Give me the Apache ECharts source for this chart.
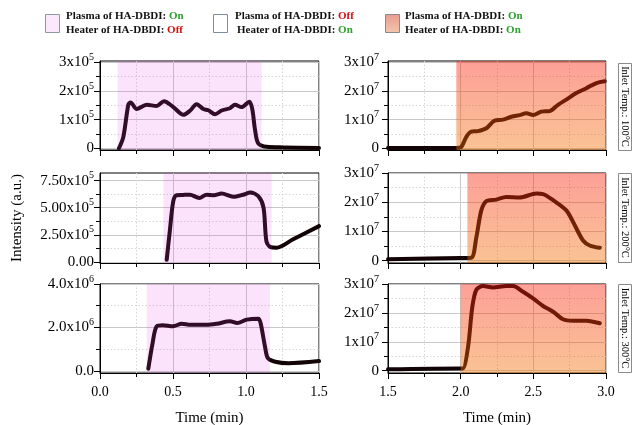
<!DOCTYPE html>
<html><head><meta charset="utf-8">
<script src="https://cdn.jsdelivr.net/npm/echarts@6/dist/echarts.min.js"></script>
<style>html,body{margin:0;padding:0;background:#fff}#c{width:638px;height:425px}</style>
</head><body><div id="c"></div>
<script>
// ---------- data ----------
const timeLeftTop = [0.13,0.16,0.194,0.21,0.251,0.32,0.388,0.438,0.502,0.571,0.616,0.662,0.708,0.742,0.788,0.833,0.89,0.925,0.97,1.023,1.043,1.062,1.084,1.142,1.256,1.5];
const valLeftTop  = [0,0.4e5,1.52e5,1.6e5,1.37e5,1.52e5,1.48e5,1.64e5,1.44e5,1.17e5,1.31e5,1.54e5,1.37e5,1.33e5,1.19e5,1.32e5,1.40e5,1.52e5,1.44e5,1.63e5,1.37e5,0.64e5,0.17e5,0.05e5,0.03e5,0.01e5];

const timeLeftMid = [0.457,0.478,0.502,0.525,0.57,0.616,0.68,0.73,0.78,0.833,0.913,0.98,1.03,1.085,1.12,1.14,1.168,1.21,1.32,1.5];
const valLeftMid  = [0.2e5,2.83e5,5.6e5,6.15e5,6.18e5,6.2e5,5.9e5,6.2e5,6.15e5,6.3e5,6.0e5,6.2e5,6.4e5,6.05e5,5.0e5,1.9e5,1.36e5,1.3e5,2.06e5,3.3e5];

const timeLeftBot = [0.331,0.36,0.388,0.43,0.5,0.56,0.62,0.73,0.8,0.89,0.94,1.005,1.085,1.1,1.13,1.15,1.2,1.29,1.5];
const valLeftBot  = [0.1e6,1.27e6,2.05e6,2.1e6,2.05e6,2.17e6,2.12e6,2.12e6,2.17e6,2.28e6,2.2e6,2.36e6,2.4e6,2.2e6,1.12e6,0.58e6,0.42e6,0.35e6,0.45e6];

const timeRightTop = [1.5,1.97,2.005,2.039,2.073,2.119,2.177,2.234,2.291,2.349,2.406,2.452,2.498,2.555,2.613,2.67,2.727,2.796,2.865,2.934,2.991];
const valRightTop  = [0.01e7,0.01e7,0.05e7,0.4e7,0.58e7,0.6e7,0.7e7,0.97e7,1.0e7,1.1e7,1.16e7,1.22e7,1.16e7,1.28e7,1.3e7,1.52e7,1.7e7,1.93e7,2.1e7,2.28e7,2.34e7];

const timeRightMid = [1.5,2.0,2.073,2.108,2.142,2.177,2.245,2.314,2.406,2.521,2.567,2.636,2.727,2.785,2.842,2.888,2.957];
const valRightMid  = [0.05e7,0.09e7,0.1e7,0.8e7,1.72e7,2.04e7,2.09e7,2.18e7,2.16e7,2.3e7,2.28e7,2.07e7,1.72e7,1.21e7,0.69e7,0.52e7,0.44e7];

const timeRightBot = [1.5,2.0,2.016,2.051,2.08,2.108,2.154,2.223,2.314,2.36,2.429,2.498,2.567,2.636,2.704,2.773,2.865,2.957];
const valRightBot  = [0.05e7,0.08e7,0.08e7,0.83e7,2.2e7,2.8e7,2.93e7,2.88e7,2.93e7,2.93e7,2.73e7,2.5e7,2.24e7,2.04e7,1.78e7,1.73e7,1.73e7,1.64e7];

// shaded intervals [start, end] (min)
const shadeLeftTop = [0.12, 1.107];
const shadeLeftMid = [0.434, 1.176];
const shadeLeftBot = [0.32, 1.164];
const shadeRightTop = [1.97, 3.0];
const shadeRightMid = [2.046, 3.0];
const shadeRightBot = [2.0, 3.0];

// tick values and labels
const ticksLeftTop = [0, 1e5, 2e5, 3e5];
const labelsLeftTop = ['0', '1x10^5', '2x10^5', '3x10^5'];
const minorLeftTop = [0.5e5, 1.5e5, 2.5e5];
const ticksLeftMid = [0, 2.5e5, 5e5, 7.5e5];
const labelsLeftMid = ['0.00', '2.50x10^5', '5.00x10^5', '7.50x10^5'];
const minorLeftMid = [1.25e5, 3.75e5, 6.25e5];
const ticksLeftBot = [0, 2e6, 4e6];
const labelsLeftBot = ['0.0', '2.0x10^6', '4.0x10^6'];
const minorLeftBot = [1e6, 3e6];
const ticksRight = [0, 1e7, 2e7, 3e7];
const labelsRight = ['0', '1x10^7', '2x10^7', '3x10^7'];
const minorRight = [0.5e7, 1.5e7, 2.5e7];
const tempLabels = ['Inlet Temp.: 100°C', 'Inlet Temp.: 200°C', 'Inlet Temp.: 300°C'];

// ---------- chart ----------
const FONT = '"Liberation Serif", "Times New Roman", serif';
const chart = echarts.init(document.getElementById('c'), null, {renderer: 'canvas'});

const panels = [
  {pos: {left: 100, top: 61, width: 219, height: 89}, x: [0, 1.5], y: [-0.06e5, 3.05e5], t: timeLeftTop, v: valLeftTop, ticks: ticksLeftTop, labels: labelsLeftTop, minor: minorLeftTop, shade: shadeLeftTop, kind: 'pink', xl: false, m: 6},
  {pos: {left: 100, top: 173, width: 219, height: 90}, x: [0, 1.5], y: [-0.1e5, 8.2e5], t: timeLeftMid, v: valLeftMid, ticks: ticksLeftMid, labels: labelsLeftMid, minor: minorLeftMid, shade: shadeLeftMid, kind: 'pink', xl: false, m: 6},
  {pos: {left: 100, top: 284, width: 219, height: 89}, x: [0, 1.5], y: [-0.1e6, 4.0e6], t: timeLeftBot, v: valLeftBot, ticks: ticksLeftBot, labels: labelsLeftBot, minor: minorLeftBot, shade: shadeLeftBot, kind: 'pink', xl: true, m: 6},
  {pos: {left: 388, top: 61, width: 218, height: 89}, x: [1.5, 3.0], y: [-0.06e7, 3.05e7], t: timeRightTop, v: valRightTop, ticks: ticksRight, labels: labelsRight, minor: minorRight, shade: shadeRightTop, kind: 'heat', xl: false, m: 9},
  {pos: {left: 388, top: 173, width: 218, height: 90}, x: [1.5, 3.0], y: [-0.08e7, 3.0e7], t: timeRightMid, v: valRightMid, ticks: ticksRight, labels: labelsRight, minor: minorRight, shade: shadeRightMid, kind: 'heat', xl: false, m: 9},
  {pos: {left: 388, top: 284, width: 218, height: 89}, x: [1.5, 3.0], y: [-0.08e7, 3.0e7], t: timeRightBot, v: valRightBot, ticks: ticksRight, labels: labelsRight, minor: minorRight, shade: shadeRightBot, kind: 'heat', xl: true, m: 9}
];

function richLabel(s) {
  const i = s.indexOf('^');
  if (i < 0) return '{m|' + s + '}';
  return '{m|' + s.slice(0, i) + '}{s|' + s.slice(i + 1) + '}';
}

const grids = [], xAxes = [], yAxes = [], series = [];
panels.forEach((p, gi) => {
  grids.push(Object.assign({show: true, borderColor: '#000', borderWidth: 1, backgroundColor: 'transparent', containLabel: false, outerBoundsMode: 'none'}, p.pos));
  xAxes.push({
    type: 'value', gridIndex: gi, min: p.x[0], max: p.x[1], interval: 0.5,
    axisLine: {onZero: false, lineStyle: {color: '#000', width: 1}},
    axisTick: {show: true, length: 6, lineStyle: {color: '#000'}},
    minorTick: {show: true, splitNumber: 2, length: 4, lineStyle: {color: '#000'}},
    splitLine: {show: true, lineStyle: {color: '#c9c9c9', width: 1}},
    minorSplitLine: {show: true, lineStyle: {color: '#d6d6d6', type: [1.5, 2], width: 1}},
    axisLabel: {show: p.xl, margin: 12, color: '#000', fontFamily: FONT, fontSize: 14, formatter: v => v.toFixed(1)},
    name: p.xl ? 'Time (min)' : '', nameLocation: 'middle', nameGap: 38,
    nameTextStyle: {fontFamily: FONT, fontSize: 15, color: '#000'}
  });
  const ticks = p.ticks, labels = p.labels;
  const span = p.y[1] - p.y[0];
  // major axis
  yAxes.push({
    type: 'value', gridIndex: gi, min: p.y[0], max: p.y[1], position: 'left',
    axisLine: {show: true, onZero: false, lineStyle: {color: '#000', width: 1}},
    axisTick: {show: true, length: 6, customValues: ticks, lineStyle: {color: '#000'}},
    splitLine: {show: true, lineStyle: {color: '#c9c9c9', width: 1}},
    axisLabel: {
      show: true, margin: p.m, customValues: ticks,
      formatter: function (val) {
        for (let k = 0; k < ticks.length; k++) {
          if (Math.abs(val - ticks[k]) < span * 1e-6) return richLabel(labels[k]);
        }
        return '';
      },
      rich: {
        m: {fontFamily: FONT, fontSize: 15, color: '#000', lineHeight: 20},
        s: {fontFamily: FONT, fontSize: 10, color: '#000', verticalAlign: 'top', lineHeight: 10}
      }
    }
  });
  // minor axis (same scale, minor ticks and dotted grid only)
  yAxes.push({
    type: 'value', gridIndex: gi, min: p.y[0], max: p.y[1], position: 'left', offset: 0,
    axisLine: {show: false, onZero: false},
    axisTick: {show: true, length: 4, customValues: p.minor, lineStyle: {color: '#000'}},
    splitLine: {show: true, lineStyle: {color: '#d6d6d6', type: [1.5, 2], width: 1}},
    axisLabel: {show: false, customValues: p.minor}
  });
  const yMajor = yAxes.length - 2;
  series.push({
    type: 'line', xAxisIndex: gi, yAxisIndex: yMajor,
    data: p.t.map((t, k) => [t, p.v[k]]),
    showSymbol: false, symbol: 'none', smooth: 0.3,
    lineStyle: {color: '#120306', width: 4, cap: 'round', join: 'round'},
    z: 2, silent: true, animation: false
  });
  const fill = p.kind === 'pink'
    ? 'rgba(228,75,228,0.15)'
    : new echarts.graphic.LinearGradient(0, 0, 0, 1, [
        {offset: 0, color: 'rgba(248,29,10,0.42)'},
        {offset: 1, color: 'rgba(243,112,0,0.42)'}
      ]);
  series.push({
    type: 'line', xAxisIndex: gi, yAxisIndex: yMajor,
    data: [[p.shade[0], p.y[1]], [p.shade[1], p.y[1]]],
    showSymbol: false, symbol: 'none',
    lineStyle: {width: 0, opacity: 0},
    areaStyle: {color: fill, origin: 'start', opacity: 1},
    z: 3, silent: true, animation: false
  });
});

// legend & side labels as graphics
const legendRich = {
  b: {fontFamily: FONT, fontSize: 11, fontWeight: 'bold', fill: '#111'},
  g: {fontFamily: FONT, fontSize: 11, fontWeight: 'bold', fill: '#2ca02c'},
  r: {fontFamily: FONT, fontSize: 11, fontWeight: 'bold', fill: '#d01010'}
};
function ltext(x, y, txt) {
  return {type: 'text', x: x, y: y, silent: true, style: {text: txt, rich: legendRich, verticalAlign: 'middle', align: 'left', font: 'bold 11px ' + FONT}};
}
const graphics = [
  {type: 'rect', shape: {x: 45.5, y: 14.5, width: 14, height: 18}, style: {fill: '#fce8fc', stroke: '#8a98a8', lineWidth: 1}},
  ltext(66, 16, '{b|Plasma of HA-DBDI: }{g|On}'),
  ltext(66, 30.5, '{b|Heater of HA-DBDI: }{r|Off}'),
  {type: 'rect', shape: {x: 213.5, y: 14.5, width: 14, height: 18}, style: {fill: '#ffffff', stroke: '#7d8d9d', lineWidth: 1}},
  ltext(235, 16, '{b|Plasma of HA-DBDI: }{r|Off}'),
  ltext(237, 30.5, '{b|Heater of HA-DBDI: }{g|On}'),
  {type: 'rect', shape: {x: 385.5, y: 14.5, width: 14, height: 18}, style: {fill: new echarts.graphic.LinearGradient(0, 0, 0, 1, [{offset: 0, color: '#e89c90'}, {offset: 1, color: '#f3c6ac'}]), stroke: '#8a8a8a', lineWidth: 1}},
  ltext(405, 16, '{b|Plasma of HA-DBDI: }{g|On}'),
  ltext(405, 30.5, '{b|Heater of HA-DBDI: }{g|On}'),
  {type: 'text', x: 17, y: 218, rotation: Math.PI / 2, silent: true,
   style: {text: 'Intensity (a.u.)', font: '15px ' + FONT, fill: '#000', align: 'center', verticalAlign: 'middle'}}
];
const boxTops = [63, 173, 284], boxH = [87, 89, 88];
tempLabels.forEach((s, i) => {
  graphics.push({type: 'rect', shape: {x: 618.5, y: boxTops[i] + 0.5, width: 13, height: boxH[i]}, style: {fill: '#fff', stroke: '#8a8a8a', lineWidth: 1}});
  graphics.push({type: 'text', x: 625, y: boxTops[i] + boxH[i] / 2, rotation: -Math.PI / 2, silent: true,
    style: {text: s, font: '10.5px ' + FONT, fill: '#000', align: 'center', verticalAlign: 'middle'}});
});

chart.setOption({
  animation: false,
  backgroundColor: '#fff',
  grid: grids, xAxis: xAxes, yAxis: yAxes, series: series,
  graphic: graphics
});
</script>
</body></html>
